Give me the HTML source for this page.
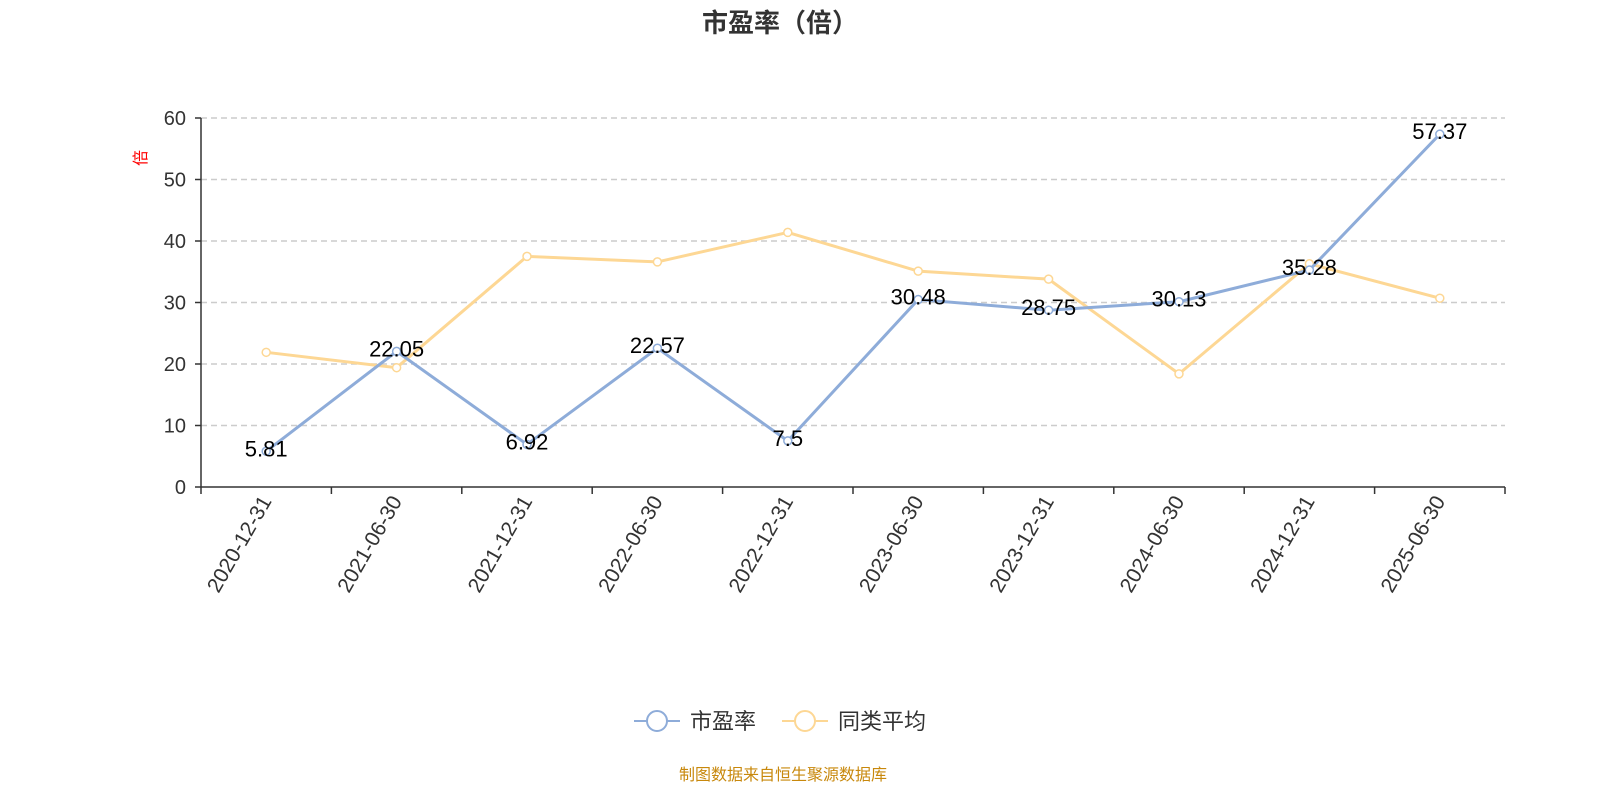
<!DOCTYPE html>
<html><head><meta charset="utf-8"><style>
body{margin:0;background:#fff;width:1600px;height:800px;overflow:hidden;font-family:"Liberation Sans","Noto Sans CJK SC",sans-serif}
</style></head><body>
<svg id="c" width="1600" height="800" xmlns="http://www.w3.org/2000/svg" font-family="Liberation Sans, Noto Sans CJK SC, sans-serif"></svg>
<script>
const categories=["2020-12-31","2021-06-30","2021-12-31","2022-06-30","2022-12-31","2023-06-30","2023-12-31","2024-06-30","2024-12-31","2025-06-30"];
const peValues=[5.81,22.05,6.92,22.57,7.5,30.48,28.75,30.13,35.28,57.37];
const peerValues=[21.9,19.4,37.5,36.6,41.4,35.1,33.8,18.4,36.3,30.7];
const yTicks=[0,10,20,30,40,50,60];
const svg=document.getElementById('c');
const NS='http://www.w3.org/2000/svg';
const X0=201,X1=1505,Y0=487,Y1=118,YMAX=60;
const bw=(X1-X0)/categories.length;
const xs=i=>X0+bw*(i+0.5);
const ys=v=>Y0-(v/YMAX)*(Y0-Y1);
function el(t,a,p){const e=document.createElementNS(NS,t);for(const k in a)e.setAttribute(k,a[k]);(p||svg).appendChild(e);return e;}
let t=el('text',{x:780,y:32,'text-anchor':'middle','font-size':26,'font-weight':'bold',fill:'#333'});t.textContent='市盈率（倍）';


yTicks.forEach(v=>{
 if(v>0){const g=el('line',{x1:X0,x2:X1,y1:ys(v),y2:ys(v),stroke:'#ccc','stroke-dasharray':'6,4','stroke-width':1.5});
 
 }
 const l=el('text',{x:186,y:ys(v)+7,'text-anchor':'end','font-size':20,fill:'#333'});l.textContent=v;
 
 
 el('line',{x1:195,x2:X0,y1:ys(v),y2:ys(v),stroke:'#333','stroke-width':1.5});
});
let ya=el('line',{x1:X0,x2:X0,y1:Y1,y2:Y0,stroke:'#333','stroke-width':1.5});


let xa=el('line',{x1:X0,x2:X1,y1:Y0,y2:Y0,stroke:'#333','stroke-width':1.5});


let yn=el('text',{x:0,y:0,transform:'translate(146,158) rotate(-90)','text-anchor':'middle','font-size':16,fill:'red'});yn.textContent='倍';


for(let i=0;i<=categories.length;i++)el('line',{x1:X0+bw*i,x2:X0+bw*i,y1:Y0,y2:Y0+7,stroke:'#333','stroke-width':1.5});
categories.forEach((c,i)=>{
 const l=el('text',{x:0,y:0,transform:`translate(${xs(i)+6},${Y0+14}) rotate(-60)`,'text-anchor':'end','font-size':21,fill:'#333'});l.textContent=c;
 
 
});
function series(vals,color,name,labels){
 const p=el('polyline',{points:vals.map((v,i)=>xs(i)+','+ys(v)).join(' '),fill:'none',stroke:color,'stroke-width':3});
 
 
 vals.forEach((v,i)=>{
  const c=el('circle',{cx:xs(i),cy:ys(v),r:4,fill:'#fff',stroke:color,'stroke-width':1.5});
  
  
  if(labels){const l=el('text',{x:xs(i),y:ys(v)+5,'text-anchor':'middle','font-size':22,fill:'#000'});
  l.textContent=v;
  
  }
 });
}
series(peerValues,'#fdd794','peer-average',false);
series(peValues,'#8eacd9','pe-ratio',true);
function legend(x,color,label,name){
 const g=el('g',{});
 
 
 el('line',{x1:x,x2:x+46,y1:721,y2:721,stroke:color,'stroke-width':2},g);
 el('circle',{cx:x+23,cy:721,r:10,fill:'#fff',stroke:color,'stroke-width':2},g);
 const t=el('text',{x:x+56,y:729,'font-size':22,fill:'#333'},g);t.textContent=label;
}
legend(634,'#8eacd9','市盈率','legend-pe-ratio');
legend(782,'#fdd794','同类平均','legend-peer-average');
const f=el('text',{x:783,y:780,'text-anchor':'middle','font-size':16,fill:'#c8880c'});f.textContent='制图数据来自恒生聚源数据库';


</script>
</body></html>
